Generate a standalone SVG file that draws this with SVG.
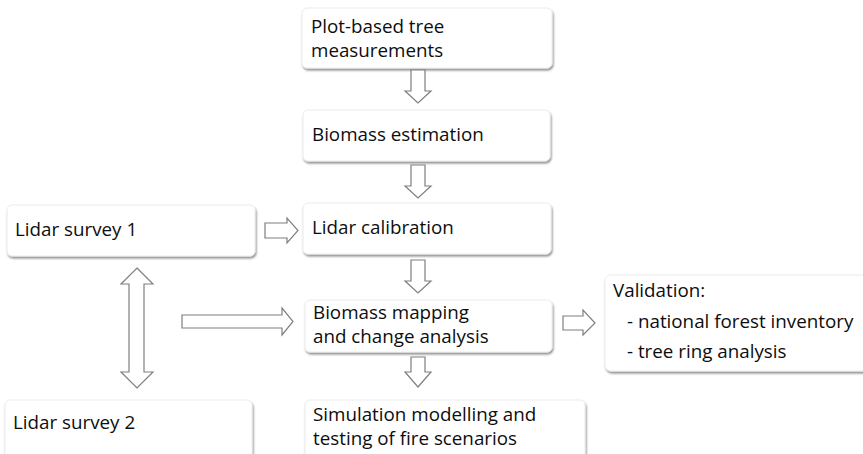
<svg xmlns="http://www.w3.org/2000/svg" width="863" height="454" viewBox="0 0 863 454">
<defs>
<filter id="sh" x="-5%" y="-10%" width="110%" height="130%">
<feGaussianBlur in="SourceAlpha" stdDeviation="1.2"/>
<feOffset dx="0.5" dy="1.5" result="b"/>
<feComponentTransfer><feFuncA type="linear" slope="0.45"/></feComponentTransfer>
<feMerge><feMergeNode/><feMergeNode in="SourceGraphic"/></feMerge>
</filter>
</defs>
<style>
.box{fill:#ffffff;stroke:#ececec;stroke-width:1;filter:url(#sh)}
.t{font-family:"Open Sans","Noto Sans",sans-serif;font-size:18.8px;fill:#0d0d0d}
.ar{fill:#ffffff;stroke:#7f7f7f;stroke-width:1.2;stroke-linejoin:miter}
</style>
<rect width="863" height="454" fill="#ffffff"/>
<g id="n-plot">
<rect class="box" x="302" y="8" width="250" height="60" rx="5"/>
<text class="t" x="311" y="32.5">Plot-based tree<tspan x="311" dy="24">measurements</tspan></text>
</g>
<g id="n-biomass-est">
<rect class="box" x="303" y="110" width="247" height="51" rx="5"/>
<text class="t" x="312" y="141">Biomass estimation</text>
</g>
<g id="n-lidar-cal">
<rect class="box" x="303" y="203" width="248" height="51" rx="5"/>
<text class="t" x="312" y="234">Lidar calibration</text>
</g>
<g id="n-biomass-map">
<rect class="box" x="305" y="300" width="247" height="52" rx="5"/>
<text class="t" x="313" y="319">Biomass mapping<tspan x="313" dy="24">and change analysis</tspan></text>
</g>
<g id="n-sim">
<rect class="box" x="305" y="400" width="280" height="60" rx="5"/>
<text class="t" x="313" y="420.5">Simulation modelling and<tspan x="313" dy="24">testing of fire scenarios</tspan></text>
</g>
<g id="n-lidar1">
<rect class="box" x="7" y="205" width="248" height="51" rx="5"/>
<text class="t" x="15" y="236">Lidar survey 1</text>
</g>
<g id="n-lidar2">
<rect class="box" x="5" y="400" width="247" height="60" rx="5"/>
<text class="t" x="13" y="429">Lidar survey 2</text>
</g>
<g id="n-validation">
<rect class="box" x="605" y="275" width="270" height="96" rx="6"/>
<text class="t" x="613" y="297">Validation:<tspan x="627" dy="31">- national forest inventory</tspan><tspan x="627" dy="30">- tree ring analysis</tspan></text>
</g>
<g id="connectors">
<path class="ar" d="M411,70 H425 V91 H431 L418,103 L405,91 H411 Z"/>
<path class="ar" d="M411,165 H425 V186 H431 L418,198 L405,186 H411 Z"/>
<path class="ar" d="M411,260 H425 V281 H431 L418,293 L405,281 H411 Z"/>
<path class="ar" d="M411,357 H425 V372 H431 L418,387 L405,372 H411 Z"/>
<path class="ar" d="M265,223 H287 V218 L298,230.5 L287,243 V238 H265 Z"/>
<path class="ar" d="M182,315 H282 V308 L293,321.5 L282,335 V328 H182 Z"/>
<path class="ar" d="M563,316 H583 V310 L595,323 L583,335 V330 H563 Z"/>
<path class="ar" d="M137,268 L153,284 H144 V372 H153 L137,388 L121,372 H129 V284 H121 Z"/>
</g>
</svg>
